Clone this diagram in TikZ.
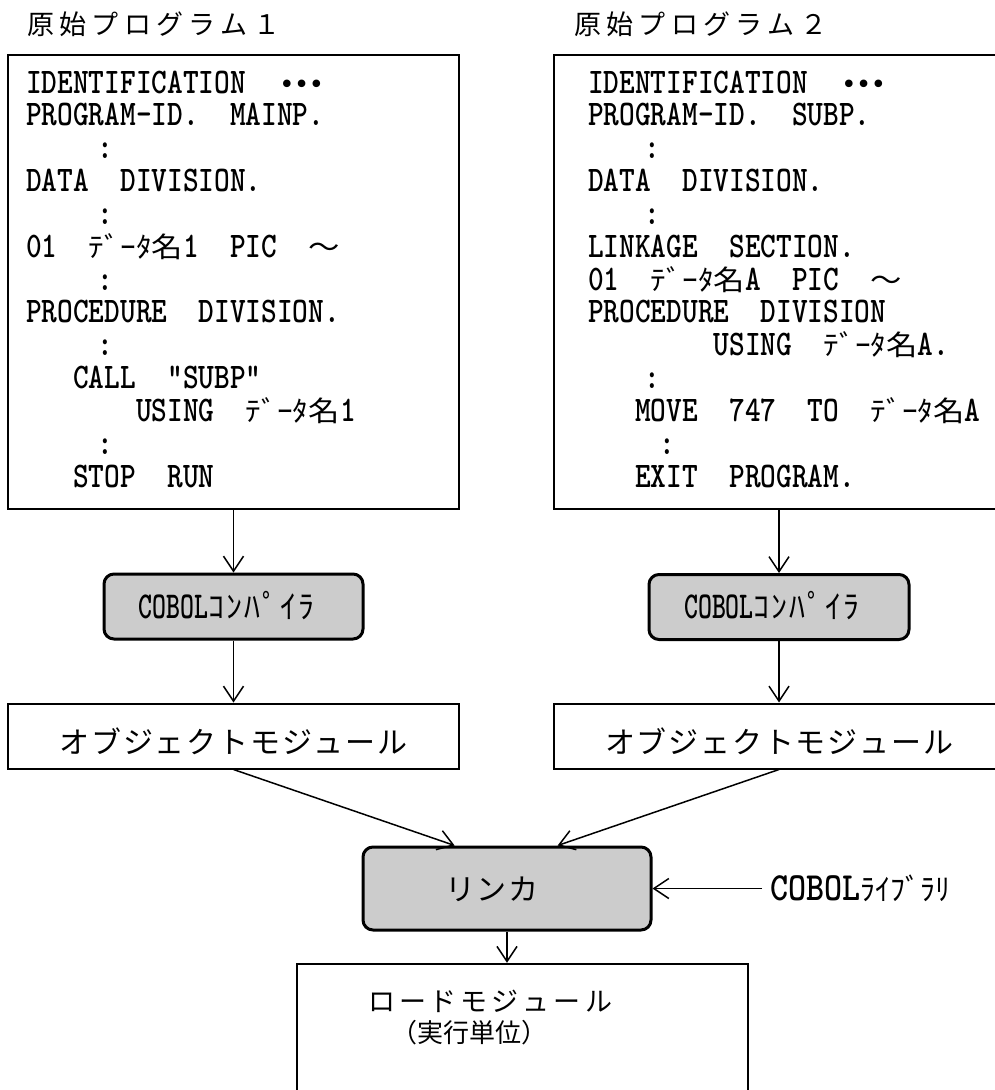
\documentclass[tikz,border=0pt]{standalone}
\usepackage{fontspec}
\usetikzlibrary{arrows.meta,calc}

% fonts
\newfontfamily\jpfont{Noto Sans CJK JP}
\newfontfamily\codejp{Noto Sans CJK JP}[FakeStretch=1.12]
\newfontfamily\codett{lmmonolt10-bold.otf}[FakeStretch=0.83]
\newfontfamily\cmptt{lmmonolt10-bold.otf}[FakeStretch=0.7]
\newfontfamily\libtt{lmmonolt10-bold.otf}[FakeStretch=0.86]
\newfontfamily\dotfont{DejaVu Sans Mono}

% one character cell of the program listings
\newlength\cw \setlength\cw{15.7pt}
\newcommand\gap[1]{\kern#1\cw}
\newcommand\J[1]{{\codejp\fontsize{28}{28}\selectfont#1}}
\newcommand\ellip{{\dotfont\fontsize{26}{26}\selectfont\kern2pt •\kern-1pt•\kern-1pt•}}

% letter-spaced text: \spaced{kern}{characters}
\makeatletter
\def\spaced#1#2{\begingroup\def\spc@k{\kern#1}\spc@a#2\relax\endgroup}
\def\spc@a#1{#1\spc@b}
\def\spc@b#1{\ifx\relax#1\else\spc@k#1\expandafter\spc@b\fi}
\makeatother

\definecolor{screen}{gray}{0.8}

\tikzset{
  prog/.style={draw, line width=2pt, minimum width=451pt, minimum height=454pt, inner sep=0pt},
  tool/.style={draw, line width=3pt, rounded corners=10pt, fill=screen,
               text height=28pt, text depth=5pt, inner sep=0pt},
  objbox/.style={draw, line width=2pt, minimum width=451pt, minimum height=65pt,
                 text height=40pt, text depth=5pt, inner sep=0pt,
                 font=\jpfont\fontsize{30}{30}\selectfont},
  code/.style={anchor=base west, inner sep=0pt, font=\codett\fontsize{36}{36}\selectfont},
  dots/.style={anchor=base, inner sep=0pt, font=\codett\fontsize{36}{36}\selectfont},
  title/.style={anchor=base west, inner sep=0pt, font=\jpfont\fontsize{27}{27}\selectfont},
  arr/.style={line width=1.5pt, -{Straight Barb[length=15pt,width=20pt]}},
}

\newcommand\compilertext{{\cmptt\fontsize{38}{38}\selectfont COBOL}{\jpfont\fontsize{32}{32}\selectfont\spaced{2pt}{ｺﾝﾊﾟｲﾗ}}\kern14pt}

\begin{document}
\begin{tikzpicture}[x=1pt, y=-1pt]
\useasboundingbox (0,0) rectangle (995,1090);
\clip (0,0) rectangle (995,1090);

% headings
\node[title] (title1) at (27,34) {\spaced{5.3pt}{原始プログラム１}};
\node[title] (title2) at (574,34) {\spaced{5.3pt}{原始プログラム２}};

% source program boxes
\node[prog] (prog1) at (233.5,282) {};
\node[prog] (prog2) at (779,282) {};

% main program listing
\node[code] (a0)  at (26,93)     {IDENTIFICATION\gap{2}\ellip};
\node[code] (a1)  at (26,125.8)  {PROGRAM-ID.\gap{2}MAINP.};
\node[dots] (a2)  at (105,158.7) {:};
\node[code] (a3)  at (26,191.5)  {DATA\gap{2}DIVISION.};
\node[dots] (a4)  at (105,224.3) {:};
\node[code] (a5)  at (26,257.2)  {01\gap{2}\J{ﾃﾞｰﾀ名}1\gap{2}PIC\gap{2}\J{～}};
\node[dots] (a6)  at (105,290)   {:};
\node[code] (a7)  at (26,322.8)  {PROCEDURE\gap{2}DIVISION.};
\node[dots] (a8)  at (105,355.7) {:};
\node[code] (a9)  at (73.1,388.5)  {CALL\gap{2}”SUBP”};
\node[code] (a10) at (135.9,421.3) {USING\gap{2}\J{ﾃﾞｰﾀ名}1};
\node[dots] (a11) at (105,454.1) {:};
\node[code] (a12) at (73.1,487)  {STOP\gap{2}RUN};

% subprogram listing
\node[code] (b0)  at (588,93)     {IDENTIFICATION\gap{2}\ellip};
\node[code] (b1)  at (588,125.8)  {PROGRAM-ID.\gap{2}SUBP.};
\node[dots] (b2)  at (652,158.7)  {:};
\node[code] (b3)  at (588,191.5)  {DATA\gap{2}DIVISION.};
\node[dots] (b4)  at (652,224.3)  {:};
\node[code] (b5)  at (588,257.2)  {LINKAGE\gap{2}SECTION.};
\node[code] (b6)  at (588,290)    {01\gap{2}\J{ﾃﾞｰﾀ名}A\gap{2}PIC\gap{2}\J{～}};
\node[code] (b7)  at (588,322.8)  {PROCEDURE\gap{2}DIVISION};
\node[code] (b8)  at (713.6,355.7) {USING\gap{2}\J{ﾃﾞｰﾀ名}A.};
\node[dots] (b9)  at (652,388.5)  {:};
\node[code] (b10) at (635.1,421.3) {MOVE\gap{2}747\gap{2}TO\gap{2}\J{ﾃﾞｰﾀ名}A};
\node[dots] (b11) at (667,454.1)  {:};
\node[code] (b12) at (635.1,487)  {EXIT\gap{2}PROGRAM.};

% compilers
\node[tool, minimum width=259pt, minimum height=65pt] (comp1) at (233.5,606.5) {\compilertext};
\node[tool, minimum width=260pt, minimum height=65pt] (comp2) at (779,607) {\compilertext};

% object modules
\node[objbox] (obj1) at (233.5,736) {\spaced{1.8pt}{オブジェクトモジュール}};
\node[objbox] (obj2) at (779,736)   {\spaced{1.8pt}{オブジェクトモジュール}};

% linker and library
\node[tool, minimum width=288pt, minimum height=83pt,
      font=\jpfont\fontsize{30}{30}\selectfont] (link) at (507,888.5) {\spaced{2pt}{リンカ}\kern30pt};
\node[anchor=west, inner xsep=8pt, inner ysep=0pt, text height=28pt, text depth=5pt] (lib) at (762,888.5)
  {{\libtt\fontsize{40}{40}\selectfont COBOL}{\jpfont\fontsize{30}{30}\selectfont ﾗｲﾌﾞﾗﾘ}};

% load module
\node[draw, line width=2.5pt, minimum width=451pt, minimum height=150pt, inner sep=0pt] (load) at (522.5,1039) {};
\node[anchor=base, inner sep=0pt, font=\jpfont\fontsize{27}{27}\selectfont] (load1) at (490,1011)
  {\spaced{4pt}{ロードモジュール}};
\node[anchor=base, inner sep=0pt, font=\jpfont\fontsize{26}{26}\selectfont] (load2) at (469,1042)
  {（実行単位）};

% flow
\draw[arr] (prog1.south) -- (comp1.north);
\draw[arr] (comp1.south) -- (obj1.north);
\draw[arr] (prog2.south) -- (comp2.north);
\draw[arr] (comp2.south) -- (obj2.north);
\draw[arr] (obj1.south) -- ($(link.north west)!0.32!(link.north east)$);
\draw[arr] (obj2.south) -- ($(link.north west)!0.674!(link.north east)$);
\draw[arr] (lib.west) -- (lib.west -| link.east);
\draw[arr] (link.south) -- (link.south |- load.north);
\end{tikzpicture}
\end{document}
